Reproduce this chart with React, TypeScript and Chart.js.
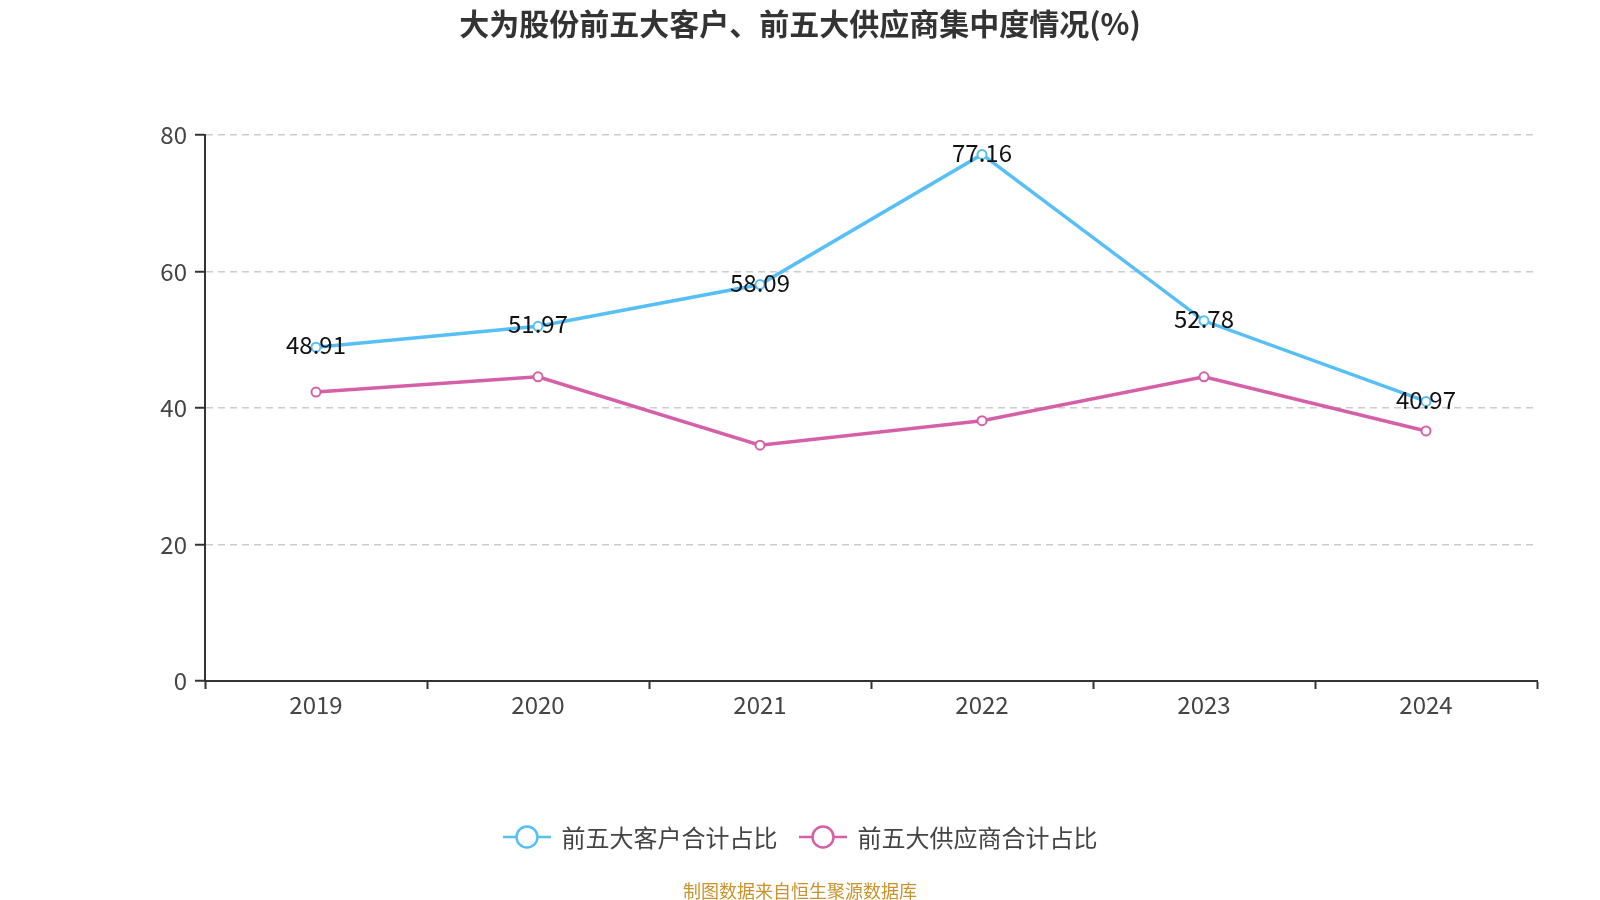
import React, { useEffect, useRef } from "react";
import { Chart, registerables } from "chart.js";

Chart.register(...registerables);

const years = ["2019", "2020", "2021", "2022", "2023", "2024"];
const customerShare = [48.91, 51.97, 58.09, 77.16, 52.78, 40.97];
const supplierShare = [42.33, 44.57, 34.55, 38.14, 44.57, 36.64];
const seriesNames = ["前五大客户合计占比", "前五大供应商合计占比"];
const seriesColors = ["#56bff5", "#d660a8"];
const titleText = "大为股份前五大客户、前五大供应商集中度情况(%)";
const sourceText = "制图数据来自恒生聚源数据库";
const yMin = 0;
const yMax = 80;
const yStep = 20;

const FONT = '"Noto Sans CJK SC", "Noto Sans", sans-serif';

const valueLabels = {
  id: "valueLabels",
  afterDatasetsDraw(chart: any) {
    const meta = chart.getDatasetMeta(0);
    const ctx = chart.ctx;
    ctx.save();
    ctx.font = `24px ${FONT}`;
    ctx.fillStyle = "#111";
    ctx.textAlign = "center";
    ctx.textBaseline = "middle";
    meta.data.forEach((pt: any, i: number) => {
      ctx.fillText(customerShare[i].toFixed(2), pt.x, pt.y - 2);
    });
    ctx.restore();
  },
};

function LegendIcon({ color }: { color: string }) {
  return (
    <svg width="48" height="26" style={{ display: "block" }}>
      <line x1="0" y1="13" x2="48" y2="13" stroke={color} strokeWidth="2.5" />
      <circle cx="24" cy="13" r="10.5" fill="#fff" stroke={color} strokeWidth="2.5" />
    </svg>
  );
}

export default function App() {
  const canvasRef = useRef<HTMLCanvasElement | null>(null);

  useEffect(() => {
    if (!canvasRef.current) return;
    const chart = new Chart(canvasRef.current, {
      type: "line",
      data: {
        labels: years,
        datasets: [
          {
            label: seriesNames[0],
            data: customerShare,
            borderColor: seriesColors[0],
            backgroundColor: "#fff",
            borderWidth: 3.5,
            pointRadius: 4.5,
            pointBorderWidth: 2,
            pointBackgroundColor: "#fff",
            pointBorderColor: seriesColors[0],
            tension: 0,
          },
          {
            label: seriesNames[1],
            data: supplierShare,
            borderColor: seriesColors[1],
            backgroundColor: "#fff",
            borderWidth: 3.5,
            pointRadius: 4.5,
            pointBorderWidth: 2,
            pointBackgroundColor: "#fff",
            pointBorderColor: seriesColors[1],
            tension: 0,
          },
        ],
      },
      options: {
        animation: false,
        responsive: false,
        devicePixelRatio: 1,
        layout: { padding: { left: 145, right: 63, top: 135, bottom: 169 } },
        plugins: {
          legend: { display: false },
          title: { display: false },
          tooltip: { enabled: false },
        },
        scales: {
          x: {
            type: "category",
            offset: true,
            grid: {
              display: true,
              drawOnChartArea: false,
              drawTicks: true,
              tickLength: 8,
              color: "#333",
              tickColor: "#333",
              tickWidth: 2,
              offset: true,
            },
            border: { display: true, color: "#333", width: 2 },
            ticks: {
              font: { size: 24, family: FONT },
              color: "#444",
              padding: 1,
              maxRotation: 0,
              autoSkip: false,
            },
            afterFit: (s: any) => {
              s.height = 50;
            },
          },
          y: {
            min: yMin,
            max: yMax,
            ticks: {
              stepSize: yStep,
              font: { size: 24, family: FONT },
              color: "#444",
              padding: 8,
            },
            grid: {
              color: (c: any) => (c.tick && c.tick.value === 0 ? "rgba(0,0,0,0)" : "#cccccc"),
              lineWidth: 1.5,
              tickLength: 10,
              tickColor: "#333",
              tickWidth: 2,
              tickBorderDash: [],
            },
            border: { display: true, color: "#333", width: 2, dash: [7, 5] },
            afterFit: (s: any) => {
              s.width = 60;
            },
          },
        },
      } as any,
      plugins: [valueLabels],
    });
    return () => chart.destroy();
  }, []);

  return (
    <div
      style={{
        position: "absolute",
        left: 0,
        top: 0,
        width: 1600,
        height: 900,
        background: "#fff",
        fontFamily: FONT,
        overflow: "hidden",
      }}
    >
      <canvas ref={canvasRef} width={1600} height={900} style={{ display: "block" }} />
      <div
        style={{
          position: "absolute",
          left: 0,
          top: 0,
          width: 1600,
          lineHeight: "45px",
          textAlign: "center",
          fontSize: 30,
          fontWeight: "bold",
          color: "#333",
        }}
      >
        {titleText}
      </div>
      <div
        style={{
          position: "absolute",
          left: 0,
          top: 822,
          width: 1600,
          height: 30,
          display: "flex",
          justifyContent: "center",
          alignItems: "center",
          fontSize: 24,
          color: "#444",
        }}
      >
        {seriesNames.map((name, i) => (
          <div
            key={name}
            style={{ display: "flex", alignItems: "center", marginLeft: i === 0 ? 0 : 21 }}
          >
            <LegendIcon color={seriesColors[i]} />
            <span style={{ marginLeft: 11, lineHeight: "30px" }}>{name}</span>
          </div>
        ))}
      </div>
      <div
        style={{
          position: "absolute",
          left: 0,
          top: 878,
          width: 1600,
          lineHeight: "24px",
          textAlign: "center",
          fontSize: 18,
          color: "#c8922c",
        }}
      >
        {sourceText}
      </div>
    </div>
  );
}
